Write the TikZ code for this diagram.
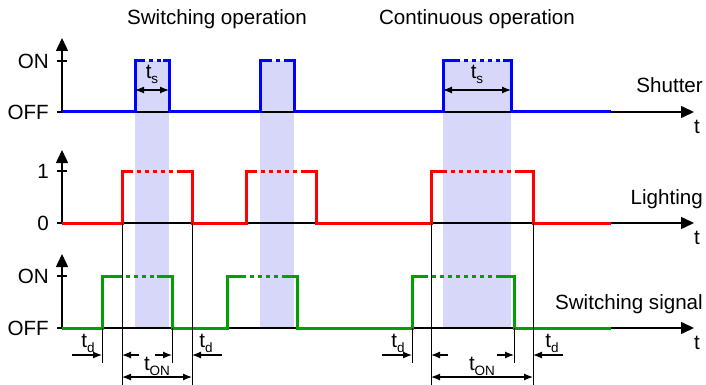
\documentclass[tikz,border=0pt]{standalone}
\usepackage{fontspec}
\setmainfont{Liberation Sans}
\usepackage{tikz}
\usetikzlibrary{arrows.meta,positioning}
\definecolor{shadeblue}{RGB}{215,215,250}
\definecolor{sigblue}{RGB}{0,0,255}
\definecolor{sigred}{RGB}{255,0,0}
\definecolor{siggreen}{RGB}{0,160,0}
\newcommand{\tlab}[1]{t\raisebox{-0.45ex}{\fontsize{13.5}{13.5}\selectfont #1}}

\begin{document}
\begin{tikzpicture}[x=1pt, y=-1pt,
    font=\fontsize{20.6}{24}\selectfont,
    axis/.style={line width=1.5pt, -{Triangle[length=13pt,width=12pt]}},
    sig/.style={line width=3pt},
    dots/.style={line width=3pt, dash pattern=on 4pt off 4pt, dash phase=4pt},
    guide/.style={line width=1pt},
    dim/.style={line width=1.2pt, -{Latex[length=9pt,width=7pt]}},
    dimboth/.style={line width=1.2pt, {Latex[length=9pt,width=7pt]}-{Latex[length=9pt,width=7pt]}},
    lbl/.style={inner sep=0pt}]
  \useasboundingbox (0,0) rectangle (706,385);
  % exposure windows
  \foreach \a/\b in {135/169, 260/294, 443/511}
    \fill[shadeblue] (\a,61) rectangle (\b,328);
  % titles
  \node[lbl, anchor=base] (title-sw) at (217,25) {Switching operation};
  \node[lbl, anchor=base] (title-co) at (477,25) {Continuous operation};
  % axes with levels and names
  \foreach \lo/\hi/\top/\llo/\lhi/\name/\id in {112/61/38/OFF/ON/Shutter/shut,
      223/171/150/0/1/Lighting/light, 328/276/254/OFF/ON/Switching signal/switch} {
    \draw[axis] (62,\lo) -- (62,\top);
    \draw[axis] (62,\lo) -- (694,\lo);
    \draw[line width=1.2pt] (57,\hi) -- (67,\hi) (57,\lo) -- (67,\lo);
    \node[lbl, anchor=east] (hi-\id) at (49,\hi) {\lhi};
    \node[lbl, anchor=east] (lo-\id) at (49,\lo) {\llo};
    \node[lbl, anchor=base east] (name-\id) at (703,\lo-19) {\name};
    \node[lbl, anchor=base] (t-\id) at (697,\lo+21) {t};
  }
  % shutter
  \draw[sig, sigblue] (62,112) -- (135,112) |- (145,61) (163,61) -| (169,112)
    -- (260,112) |- (272,61) (285,61) -| (294,112)
    -- (443,112) |- (460,61) (503,61) -| (511,112) -- (611,112);
  \draw[dots, sigblue] (145,61) -- (163,61) (272,61) -- (285,61) (460,61) -- (503,61);
  % lighting
  \draw[sig, sigred] (62,223) -- (122,223) |- (133,171) (177,171) -| (192,223)
    -- (246,223) |- (257,171) (301,171) -| (316,223)
    -- (431,223) |- (447,171) (519,171) -| (533,223) -- (611,223);
  \draw[dots, sigred] (133,171) -- (177,171) (257,171) -- (301,171) (447,171) -- (519,171);
  % switching signal
  \draw[sig, siggreen] (62,328) -- (102,328) |- (122,276) (157,276) -| (172,328)
    -- (227,328) |- (246,276) (283,276) -| (297,328)
    -- (412,328) |- (428,276) (500,276) -| (514,328) -- (611,328);
  \draw[dots, siggreen] (122,276) -- (157,276) (246,276) -- (283,276) (428,276) -- (500,276);
  % shutter times
  \foreach \a/\b/\id in {135/169/sw, 443/511/co} {
    \coordinate (ts-a-\id) at (\a,90);
    \coordinate (ts-b-\id) at (\b,90);
    \draw[dimboth] (ts-a-\id) -- (ts-b-\id);
    \node[lbl, above=6pt] (ts-\id) at ({(\a+\b)/2},90) {\tlab{s}};
  }
  % delays and on times
  \foreach \ra/\rb/\fa/\fb/\tdx/\id in {102/122/172/192/206/sw, 412/431/514/533/552/co} {
    \draw[guide] (\rb,223) -- (\rb,385) (\fb,223) -- (\fb,385);
    \draw[guide] (\ra,328) -- (\ra,363) (\fa,328) -- (\fa,363);
    \coordinate (on-\id) at (\ra,355);
    \coordinate (li-\id) at (\rb,355);
    \coordinate (off-\id) at (\fa,355);
    \coordinate (lo-\id) at (\fb,355);
    \draw[dim] ([xshift=-30pt]on-\id) -- (on-\id);
    \draw[dim] ([xshift=17pt]li-\id) -- (li-\id);
    \draw[dim] ([xshift=-17pt]off-\id) -- (off-\id);
    \draw[dim] ([xshift=30pt]lo-\id) -- (lo-\id);
    \coordinate (ton-a-\id) at (\rb,377);
    \coordinate (ton-b-\id) at (\fb,377);
    \draw[dimboth] (ton-a-\id) -- (ton-b-\id);
    \node[lbl] (td1-\id) at (\ra-14,343) {\tlab{d}};
    \node[lbl] (td2-\id) at (\tdx,343) {\tlab{d}};
    \node[lbl] (ton-\id) at ({(\rb+\fb)/2},366) {\tlab{ON}};
  }
\end{tikzpicture}
\end{document}
